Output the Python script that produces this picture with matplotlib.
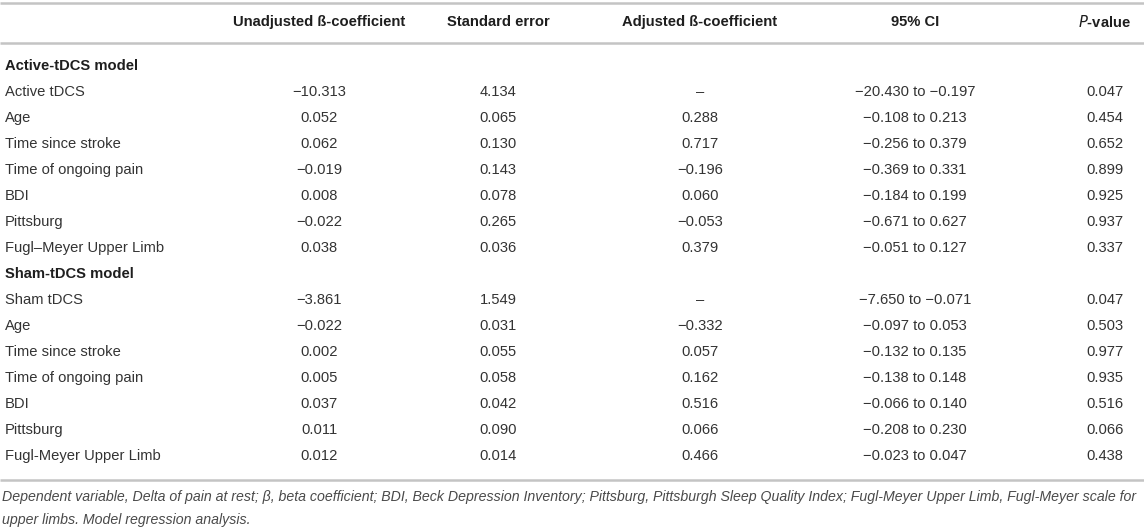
import matplotlib
matplotlib.use("Agg")
import matplotlib.pyplot as plt

# ---- data ----
columns = ["Unadjusted ß-coefficient", "Standard error", "Adjusted ß-coefficient", "95% CI", "P-value"]
section_titles = ["Active-tDCS model", "Sham-tDCS model"]

active_labels = ["Active tDCS", "Age", "Time since stroke", "Time of ongoing pain", "BDI",
                 "Pittsburg", "Fugl–Meyer Upper Limb"]
active_unadj = ["−10.313", "0.052", "0.062", "−0.019", "0.008", "−0.022", "0.038"]
active_se = ["4.134", "0.065", "0.130", "0.143", "0.078", "0.265", "0.036"]
active_adj = ["–", "0.288", "0.717", "−0.196", "0.060", "−0.053", "0.379"]
active_ci = ["−20.430 to −0.197", "−0.108 to 0.213", "−0.256 to 0.379", "−0.369 to 0.331",
             "−0.184 to 0.199", "−0.671 to 0.627", "−0.051 to 0.127"]
active_p = ["0.047", "0.454", "0.652", "0.899", "0.925", "0.937", "0.337"]

sham_labels = ["Sham tDCS", "Age", "Time since stroke", "Time of ongoing pain", "BDI",
               "Pittsburg", "Fugl-Meyer Upper Limb"]
sham_unadj = ["−3.861", "−0.022", "0.002", "0.005", "0.037", "0.011", "0.012"]
sham_se = ["1.549", "0.031", "0.055", "0.058", "0.042", "0.090", "0.014"]
sham_adj = ["–", "−0.332", "0.057", "0.162", "0.516", "0.066", "0.466"]
sham_ci = ["−7.650 to −0.071", "−0.097 to 0.053", "−0.132 to 0.135", "−0.138 to 0.148",
           "−0.066 to 0.140", "−0.208 to 0.230", "−0.023 to 0.047"]
sham_p = ["0.047", "0.503", "0.977", "0.935", "0.516", "0.066", "0.438"]

footnote_lines = [
    "Dependent variable, Delta of pain at rest; β, beta coefficient; BDI, Beck Depression Inventory; "
    "Pittsburg, Pittsburgh Sleep Quality Index; Fugl-Meyer Upper Limb, Fugl-Meyer scale for",
    "upper limbs. Model regression analysis.",
]

# ---- layout ----
W, H = 1144, 531
fig = plt.figure(figsize=(W / 100, H / 100), dpi=100)
ax = fig.add_axes([0, 0, 1, 1])
ax.set_xlim(0, W)
ax.set_ylim(H, 0)
ax.axis("off")

FONT = "Liberation Sans"
FS = 10.6
body_color = "#333333"
head_color = "#1e1e1e"
line_color = "#c4c4c4"

col_x = [319, 498, 700, 915, 1105]

for y in (3, 42.5, 480):
    ax.plot([0, W], [y, y], color=line_color, lw=1.8, solid_capstyle="butt")

# header
for x, c in zip(col_x, columns):
    if c == "P-value":
        ax.text(x, 22, r"$\bf{\it{P}}$" + "-value", ha="center", va="center", fontsize=FS,
                fontfamily=FONT, fontweight="bold", color=head_color)
    else:
        ax.text(x, 22, c, ha="center", va="center", fontsize=FS, fontfamily=FONT,
                fontweight="bold", color=head_color)

row_h = 26
y = 66
sections = [
    (section_titles[0], active_labels, [active_unadj, active_se, active_adj, active_ci, active_p]),
    (section_titles[1], sham_labels, [sham_unadj, sham_se, sham_adj, sham_ci, sham_p]),
]
for title, labels, cols in sections:
    ax.text(5, y, title, ha="left", va="center", fontsize=FS, fontfamily=FONT,
            fontweight="bold", color=head_color)
    y += row_h
    for r, lab in enumerate(labels):
        ax.text(5, y, lab, ha="left", va="center", fontsize=FS, fontfamily=FONT, color=body_color)
        for x, col in zip(col_x, cols):
            ax.text(x, y, col[r], ha="center", va="center", fontsize=FS, fontfamily=FONT,
                    color=body_color)
        y += row_h

for i, line in enumerate(footnote_lines):
    ax.text(2, 497 + i * 23, line, ha="left", va="center", fontsize=10.2, fontfamily=FONT,
            style="italic", color="#4a4a4a")

fig.savefig("out.png", dpi=100)
